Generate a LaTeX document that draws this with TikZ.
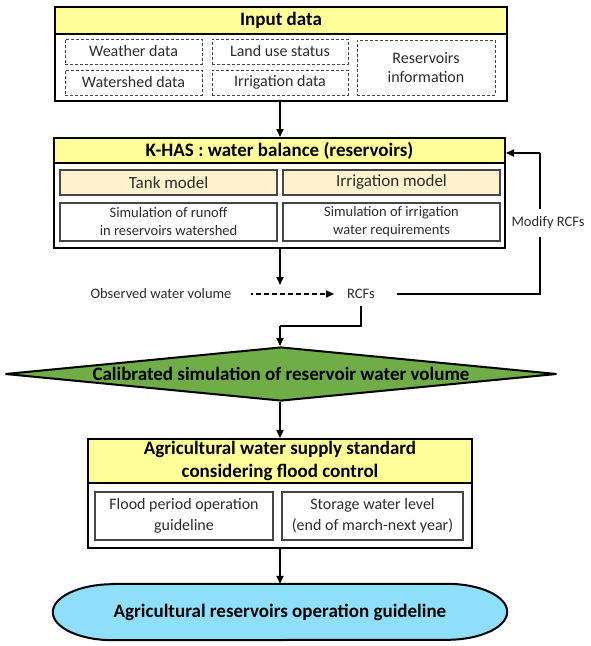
\documentclass[tikz,border=0pt]{standalone}
\usepackage{fontspec}
\setmainfont{Carlito}
\usepackage{tikz}
\usetikzlibrary{arrows.meta, positioning, shapes.geometric}
\usepackage{xcolor}
\definecolor{hdYellow}{RGB}{255,255,153}
\definecolor{tankPeach}{RGB}{255,242,204}
\definecolor{calibGreen}{RGB}{112,173,71}
\definecolor{guideBlue}{RGB}{143,223,250}
\definecolor{txtGray}{RGB}{45,45,45}
\definecolor{boxGray}{RGB}{70,70,70}

\begin{document}
\begin{tikzpicture}[
  x=1pt, y=-1pt,
  every node/.style={align=center, inner sep=1pt},
  arrow/.style={-{Triangle[length=8pt,width=7pt]}, line width=1.8pt},
  line/.style={line width=1.8pt},
  outerbox/.style={draw, line width=2pt, fill=white},
  headbox/.style={draw, line width=2pt, fill=hdYellow, font=\bfseries\fontsize{19}{23}\selectfont},
  databox/.style={draw=boxGray, dashed, dash pattern=on 3pt off 2pt, line width=0.9pt,
    text=txtGray, font=\fontsize{16}{19}\selectfont},
  modelbox/.style={draw=boxGray, line width=1.2pt, fill=tankPeach,
    text=txtGray, font=\fontsize{17}{20}\selectfont},
  simbox/.style={draw=boxGray, line width=1.2pt, fill=white,
    text=txtGray, font=\fontsize{14.5}{18}\selectfont},
  plain/.style={text=txtGray, font=\fontsize{14.5}{18}\selectfont},
]
\useasboundingbox (0,0) rectangle (590,646);

% Input data block
\node[outerbox, minimum width=452pt, minimum height=94pt] (inbox) at (281,54) {};
\node[headbox, minimum width=452pt, minimum height=27pt] (inhead) at (281,20.5) {Input data};
\node[databox, minimum width=137pt, minimum height=25pt] (weather) at (133.5,51.5) {Weather data};
\node[databox, minimum width=137pt, minimum height=25pt] (watershed) at (133.5,82.5) {Watershed data};
\node[databox, minimum width=136pt, minimum height=25pt] (landuse) at (280,51.5) {Land use status};
\node[databox, minimum width=136pt, minimum height=25pt] (irrdata) at (280,82.5) {Irrigation data};
\node[databox, minimum width=138pt, minimum height=55pt] (resinfo) at (426,67.5) {Reservoirs\\information};

% K-HAS block
\node[outerbox, minimum width=451pt, minimum height=110pt] (khas) at (279.5,193) {};
\node[headbox, minimum width=451pt, minimum height=25pt] (khashead) at (279.5,150.5) {K-HAS : water balance (reservoirs)};
\node[modelbox, minimum width=217pt, minimum height=25pt] (tank) at (168.5,182.5) {Tank model};
\node[modelbox, minimum width=217pt, minimum height=25pt] (irrmodel) at (391.5,182.5) {Irrigation model};
\node[simbox, minimum width=217pt, minimum height=38pt] (runoff) at (168.5,222) {Simulation of runoff\\in reservoirs watershed};
\node[simbox, minimum width=217pt, minimum height=38pt] (irrreq) at (391.5,222) {Simulation of irrigation\\water requirements};

% calibration of RCFs
\coordinate (simend) at (280,285);
\node[plain] (obs) at (161,294) {Observed water volume};
\node[plain] (rcf) at (361,294) {RCFs};
\coordinate (fbtop) at (540,153);
\coordinate (bend) at (280,326);

% Calibrated simulation
\node[diamond, draw, line width=2pt, fill=calibGreen, minimum width=552pt, minimum height=54pt, inner sep=0pt] (calib) at (281,374) {};
\node[font=\bfseries\fontsize{19}{23}\selectfont] (calibtxt) at (calib.center) {Calibrated simulation of reservoir water volume};

% Agricultural water supply standard block
\node[outerbox, minimum width=384pt, minimum height=109pt] (agri) at (280,493.5) {};
\node[headbox, minimum width=384pt, minimum height=44pt] (agrihead) at (280,461) {Agricultural water supply standard\\considering flood control};
\node[simbox, minimum width=178pt, minimum height=48pt, font=\fontsize{16}{21}\selectfont] (flood) at (184,516) {Flood period operation\\guideline};
\node[simbox, minimum width=181pt, minimum height=48pt, font=\fontsize{16}{21}\selectfont] (storage) at (372.5,516) {Storage water level\\(end of march-next year)};

% Final guideline
\node[minimum width=454pt, minimum height=56pt] (guide) at (280,612) {};
\draw[line width=2pt, fill=guideBlue]
  ([xshift=60pt]guide.north west) -- ([xshift=-60pt]guide.north east)
  arc[start angle=90, end angle=-90, x radius=60pt, y radius=28pt]
  -- ([xshift=60pt]guide.south west)
  arc[start angle=270, end angle=90, x radius=60pt, y radius=28pt] -- cycle;
\node[font=\bfseries\fontsize{19}{23}\selectfont] (guidetxt) at (guide.center) {Agricultural reservoirs operation guideline};

% Arrows
\draw[arrow] (inbox.south -| 280,0) -- (khashead.north -| 280,0);
\draw[arrow] (khas.south -| simend) -- (simend);
\draw[arrow, dash pattern=on 5pt off 3pt, dash phase=3pt, shorten <=18pt, shorten >=12pt] (obs.east) -- (rcf.west);
\draw[line, shorten <=21pt] (rcf.east) -| (fbtop);
\draw[arrow] (fbtop) -- (fbtop -| khashead.east);
\node[plain, fill=white, inner xsep=1pt, inner ysep=8pt] (modify) at (548,223) {Modify RCFs};
\draw[line, shorten <=6pt] (rcf.south) |- (bend);
\draw[arrow] (bend) -- (calib.north -| bend);
\draw[arrow] (calib.south -| 280,0) -- (agrihead.north);
\draw[arrow] (agri.south) -- (guide.north);

\end{tikzpicture}
\end{document}
